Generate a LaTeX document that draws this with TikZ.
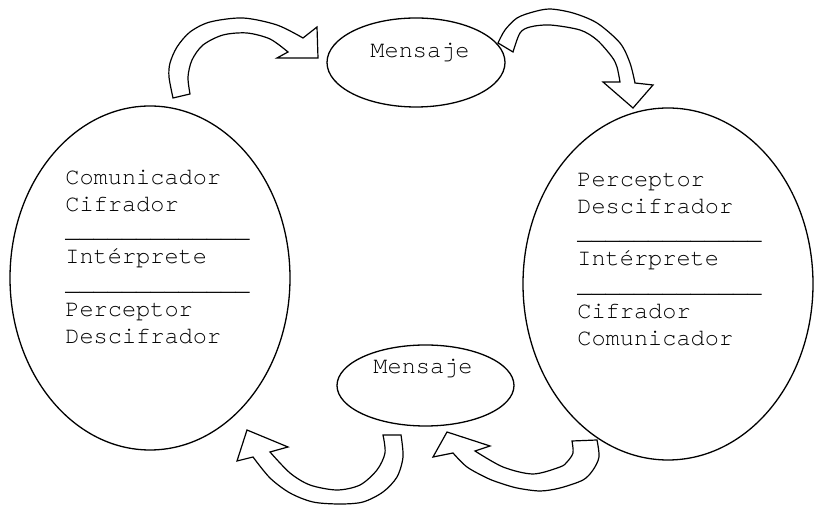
\documentclass[tikz,border=0pt]{standalone}
\usepackage{fontspec}
\setmonofont{texgyrecursor-regular.otf}
\usetikzlibrary{shapes.geometric,positioning}

\tikzset{
    oval/.style={draw, ellipse, line width=0.65pt, inner sep=0pt},
    rolebox/.style={anchor=north west, align=left, inner sep=0pt,
        font=\ttfamily\fontsize{11.8}{13.2}\selectfont},
    msgtext/.style={inner sep=0pt, font=\ttfamily\fontsize{11.8}{13.2}\selectfont},
    blockarrow/.style={draw, fill=white, line width=0.6pt, line join=miter}
}

\begin{document}
\begin{tikzpicture}[x=0.5pt, y=-0.5pt]
    \useasboundingbox (0,0) rectangle (814,506);

    % Participants
    \node[oval, minimum width=140pt, minimum height=172pt] (emisor) at (150,278) {};
    \node[oval, minimum width=145pt, minimum height=176pt] (receptor) at (668,284) {};
    \node[rolebox] (emisortext) at (65,170) {Comunicador\\Cifrador\\\_\_\_\_\_\_\_\_\_\_\_\_\_\\Int\'erprete\\\_\_\_\_\_\_\_\_\_\_\_\_\_\\Perceptor\\Descifrador};
    \node[rolebox] (receptortext) at (577,173) {Perceptor\\Descifrador\\\_\_\_\_\_\_\_\_\_\_\_\_\_\\Int\'erprete\\\_\_\_\_\_\_\_\_\_\_\_\_\_\\Cifrador\\Comunicador};

    % Messages
    \node[oval, minimum width=89pt, minimum height=44.5pt] (msgtop) at (416,62.5) {};
    \node[msgtext] (msgtoptext) at (420,53) {Mensaje};
    \node[oval, minimum width=88.5pt, minimum height=40.5pt] (msgbot) at (425.5,385.5) {};
    \node[msgtext] (msgbottext) at (423,369) {Mensaje};

    % Top arrows
    \draw[blockarrow] plot[smooth] coordinates {(173,98) (169,77) (170,63) (177,47) (190,32) (210,22) (243,18) (277,25) (303,38)}
        -- (317,27) -- (318,58) -- (277,58) -- (288,52)
        -- plot[smooth] coordinates {(288,52) (270,39) (247,33) (223,35) (203,45) (192,60) (188,77) (190,94)} -- cycle;
    \draw[blockarrow] plot[smooth] coordinates {(498,43) (505,30) (517,18) (533,12) (550,9) (573,13) (597,23) (620,43) (630,63) (635,83)}
        -- (653,85) -- (633,108) -- (603,82) -- (620,82)
        -- plot[smooth] coordinates {(620,82) (617,67) (612,57) (597,40) (580,30) (550,25) (530,27) (520,33) (513,52)} -- cycle;

    % Bottom arrows
    \draw[blockarrow] plot[smooth] coordinates {(401,435) (403,457) (397,477) (383,492) (363,502) (340,504) (313,502) (290,493) (270,478) (253,457)}
        -- (237,461) -- (247,430) -- (288,447) -- (270,452)
        -- plot[smooth] coordinates {(270,452) (290,473) (310,485) (337,490) (360,485) (377,470) (385,453) (383,435)} -- cycle;
    \draw[blockarrow] plot[smooth] coordinates {(597,440) (599,457) (593,470) (583,480) (560,488) (540,491) (517,488) (500,483) (487,478) (467,467) (453,453)}
        -- (433,457) -- (447,432) -- (490,446) -- (475,451)
        -- plot[smooth] coordinates {(475,451) (503,467) (533,474) (560,467) (567,462) (573,453) (572,441)} -- cycle;
\end{tikzpicture}
\end{document}
